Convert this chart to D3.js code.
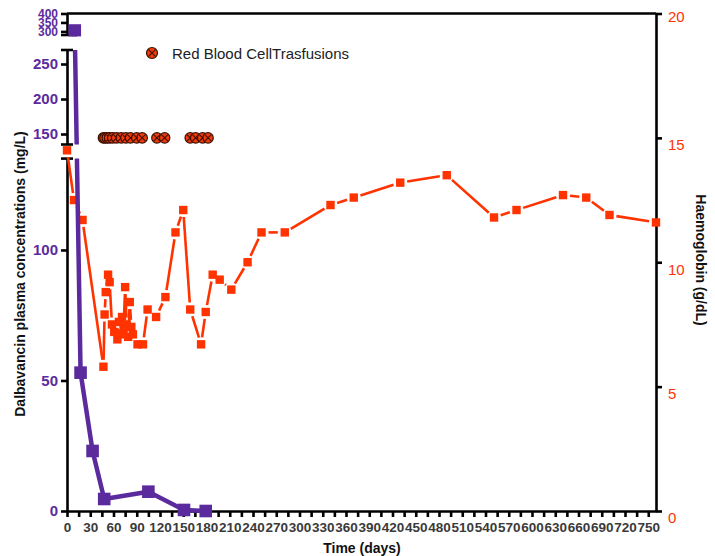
<!DOCTYPE html>
<html>
<head>
<meta charset="utf-8">
<script src="https://cdn.jsdelivr.net/npm/d3@7/dist/d3.min.js"></script>
<style>
  html, body { margin: 0; padding: 0; background: #fff; }
  svg { display: block; font-family: "Liberation Sans", Arial, sans-serif; }
</style>
</head>
<body>
<svg id="chart" width="715" height="556"></svg>
<script>
// ---------- data ----------
const dalbDays = [10, 17.5, 33, 48, 105, 151, 179];
const dalbConc = [305, 53, 23, 4.6, 7.4, 0.4, 0];

const hbDays = [0, 9, 20, 47, 48.5, 50, 53, 55, 58, 61, 65, 67, 69, 71, 73, 75, 77, 79, 81, 83, 85, 91, 98,
                104, 115, 127, 140, 150, 159, 173, 179, 188, 197, 212, 233, 251, 281, 340, 370, 430, 490,
                551, 580, 640, 670, 700, 760];
const hbValues = [14.5, 12.5, 11.7, 5.8, 7.9, 8.8, 9.5, 9.2, 7.5, 7.2, 6.9, 7.6, 7.1, 7.8, 7.3, 9.0, 7.5, 7.0, 8.4, 7.4, 7.1, 6.7, 6.7,
                  8.1, 7.8, 8.6, 11.2, 12.1, 8.1, 6.7, 8.0, 9.5, 9.3, 8.9, 10.0, 11.2, 11.2, 12.3, 12.6, 13.2, 13.5,
                  11.8, 12.1, 12.7, 12.6, 11.9, 11.6];

const transfusionDays = [47, 49, 52, 55, 59, 64, 70, 76, 82, 90, 97, 116, 126, 159, 166, 175, 182];
const transfusionLevel = 15;

const xTickValues = d3.range(0, 751, 15);
const leftTicksBottom = [0, 50, 100];
const leftTicksMiddle = [150, 200, 250];
const leftTicksTop = [300, 350, 400];
const rightTickValues = [0, 5, 10, 15, 20];

const legendLabel = "Red Blood CellTrasfusions";
const xTitle = "Time (days)";
const yLeftTitle = "Dalbavancin plasma concentrations (mg/L)";
const yRightTitle = "Haemoglobin (g/dL)";

// ---------- setup ----------
const purple = "#5b2b9e";
const red = "#ff3300";
const svg = d3.select("#chart");
svg.append("rect").attr("width", 715).attr("height", 556).attr("fill", "#fff");

const x = d3.scaleLinear().domain([0, 760]).range([67, 656]);
const yR = d3.scaleLinear().domain([0, 20]).range([511, 13.5]);
const yBot = d3.scaleLinear().domain([0, 135]).range([511, 158.6]);
const yMid = d3.scaleLinear().domain([135, 270]).range([144.5, 50]);
const yTop = d3.scaleLinear().domain([280, 400]).range([35, 13.5]);
const yGap = d3.scaleLinear().domain([270, 280]).range([50, 35]);
function yL(v) {
  if (v <= 135) return yBot(v);
  if (v <= 270) return yMid(v);
  if (v < 280) return yGap(v);
  return yTop(v);
}

const defs = svg.append("defs");
const bands = [[0, 36.5], [50, 144.5], [158.6, 540]];
bands.forEach((b, i) => {
  defs.append("clipPath").attr("id", "seg" + i)
    .append("rect").attr("x", 0).attr("y", b[0]).attr("width", 715).attr("height", b[1] - b[0]);
});

// ---------- axes ----------
const axisStroke = 2.6;
function styleAxis(g) {
  g.selectAll("path.domain").attr("stroke", "#000").attr("stroke-width", axisStroke);
  g.selectAll(".tick line").attr("stroke", "#000").attr("stroke-width", axisStroke);
}

// top frame line
svg.append("line").attr("x1", 67).attr("x2", 656).attr("y1", 13.5).attr("y2", 13.5)
  .attr("stroke", "#000").attr("stroke-width", axisStroke);

// x axis
const gx = svg.append("g").attr("transform", "translate(0,511)")
  .call(d3.axisBottom(x).tickValues(xTickValues).tickSize(6).tickSizeOuter(0).tickPadding(5)
    .tickFormat(d => d % 30 === 0 ? d : ""));
styleAxis(gx);
gx.selectAll("text").attr("font-size", "13.5px").attr("font-weight", "bold").attr("fill", "#3a3a3a")
  .attr("font-family", "Liberation Sans, Arial, sans-serif");

// left axis segments
[[yBot, leftTicksBottom, 15], [yMid, leftTicksMiddle, 15], [yTop, leftTicksTop, 12]].forEach(([sc, tv, fs]) => {
  const g = svg.append("g").attr("transform", "translate(67,0)")
    .call(d3.axisLeft(sc).tickValues(tv).tickSize(6).tickSizeOuter(0).tickPadding(3));
  styleAxis(g);
  g.selectAll("text").attr("font-size", fs + "px").attr("font-weight", "bold").attr("fill", purple)
    .attr("font-family", "Liberation Sans, Arial, sans-serif");
});
// segment caps
[158.6, 144.5, 50, 35].forEach(yy => {
  svg.append("line").attr("x1", 61).attr("x2", 73).attr("y1", yy).attr("y2", yy)
    .attr("stroke", "#000").attr("stroke-width", axisStroke);
});

// right axis
const gr = svg.append("g").attr("transform", "translate(656,0)")
  .call(d3.axisRight(yR).tickValues(rightTickValues).tickSize(6).tickSizeOuter(0).tickPadding(6));
styleAxis(gr);
gr.selectAll("text").attr("font-size", "15px").attr("fill", red)
  .attr("font-family", "Liberation Sans, Arial, sans-serif")
  .attr("transform", d => d === 20 ? "translate(0,3)" : "translate(0,7)");

// ---------- haemoglobin series (gapped line) ----------
const hbPts = hbDays.map((d, i) => [x(d), yR(hbValues[i])]);
const gapPx = 7;
const segs = d3.pairs(hbPts).filter(([a, b]) => Math.hypot(b[0] - a[0], b[1] - a[1]) > 2 * gapPx + 1)
  .map(([a, b]) => {
    const L = Math.hypot(b[0] - a[0], b[1] - a[1]);
    const ux = (b[0] - a[0]) / L, uy = (b[1] - a[1]) / L;
    return [a[0] + ux * gapPx, a[1] + uy * gapPx, b[0] - ux * gapPx, b[1] - uy * gapPx];
  });
svg.append("g").selectAll("line").data(segs).join("line")
  .attr("x1", d => d[0]).attr("y1", d => d[1]).attr("x2", d => d[2]).attr("y2", d => d[3])
  .attr("stroke", red).attr("stroke-width", 2.6);
svg.append("g").selectAll("rect").data(hbPts).join("rect")
  .attr("x", d => d[0] - 4.2).attr("y", d => d[1] - 4.2).attr("width", 8.4).attr("height", 8.4)
  .attr("fill", red);

// ---------- transfusions ----------
function crossCircle(g, cx, cy, r) {
  g.append("circle").attr("cx", cx).attr("cy", cy).attr("r", r)
    .attr("fill", "#f03a0c").attr("stroke", "#3a1000").attr("stroke-width", 1.2);
  const k = r * 0.62;
  g.append("path").attr("d", `M${cx - k},${cy - k}L${cx + k},${cy + k}M${cx - k},${cy + k}L${cx + k},${cy - k}`)
    .attr("stroke", "#3a1000").attr("stroke-width", 1.1);
}
const gt = svg.append("g");
transfusionDays.forEach(d => crossCircle(gt, x(d), yR(transfusionLevel), 5.2));

// legend
const gl = svg.append("g");
crossCircle(gl, 152, 53, 5.5);
gl.append("text").attr("x", 172).attr("y", 58.5).attr("font-size", "15px").attr("fill", "#222").text(legendLabel);

// ---------- dalbavancin series (broken axis, clipped) ----------
const dalbPts = dalbDays.map((d, i) => [x(d), yL(dalbConc[i])]);
bands.forEach((b, i) => {
  const g = svg.append("g").attr("clip-path", `url(#seg${i})`);
  g.append("path").attr("d", d3.line()(dalbPts)).attr("fill", "none")
    .attr("stroke", purple).attr("stroke-width", 4.5).attr("stroke-linejoin", "round");
  g.selectAll("rect").data(dalbPts).join("rect")
    .attr("x", d => d[0] - 6.3).attr("y", d => d[1] - 6.3).attr("width", 12.6).attr("height", 12.6)
    .attr("fill", purple);
});

// ---------- titles ----------
svg.append("text").attr("x", 362).attr("y", 553).attr("text-anchor", "middle")
  .attr("font-size", "14px").attr("font-weight", "bold").attr("fill", "#111").text(xTitle);
svg.append("text").attr("transform", "translate(25,274) rotate(-90)").attr("text-anchor", "middle")
  .attr("font-size", "14px").attr("font-weight", "bold").attr("fill", "#111").text(yLeftTitle);
svg.append("text").attr("transform", "translate(696,260) rotate(90)").attr("text-anchor", "middle")
  .attr("font-size", "14px").attr("font-weight", "bold").attr("fill", "#111").text(yRightTitle);
</script>
</body>
</html>
